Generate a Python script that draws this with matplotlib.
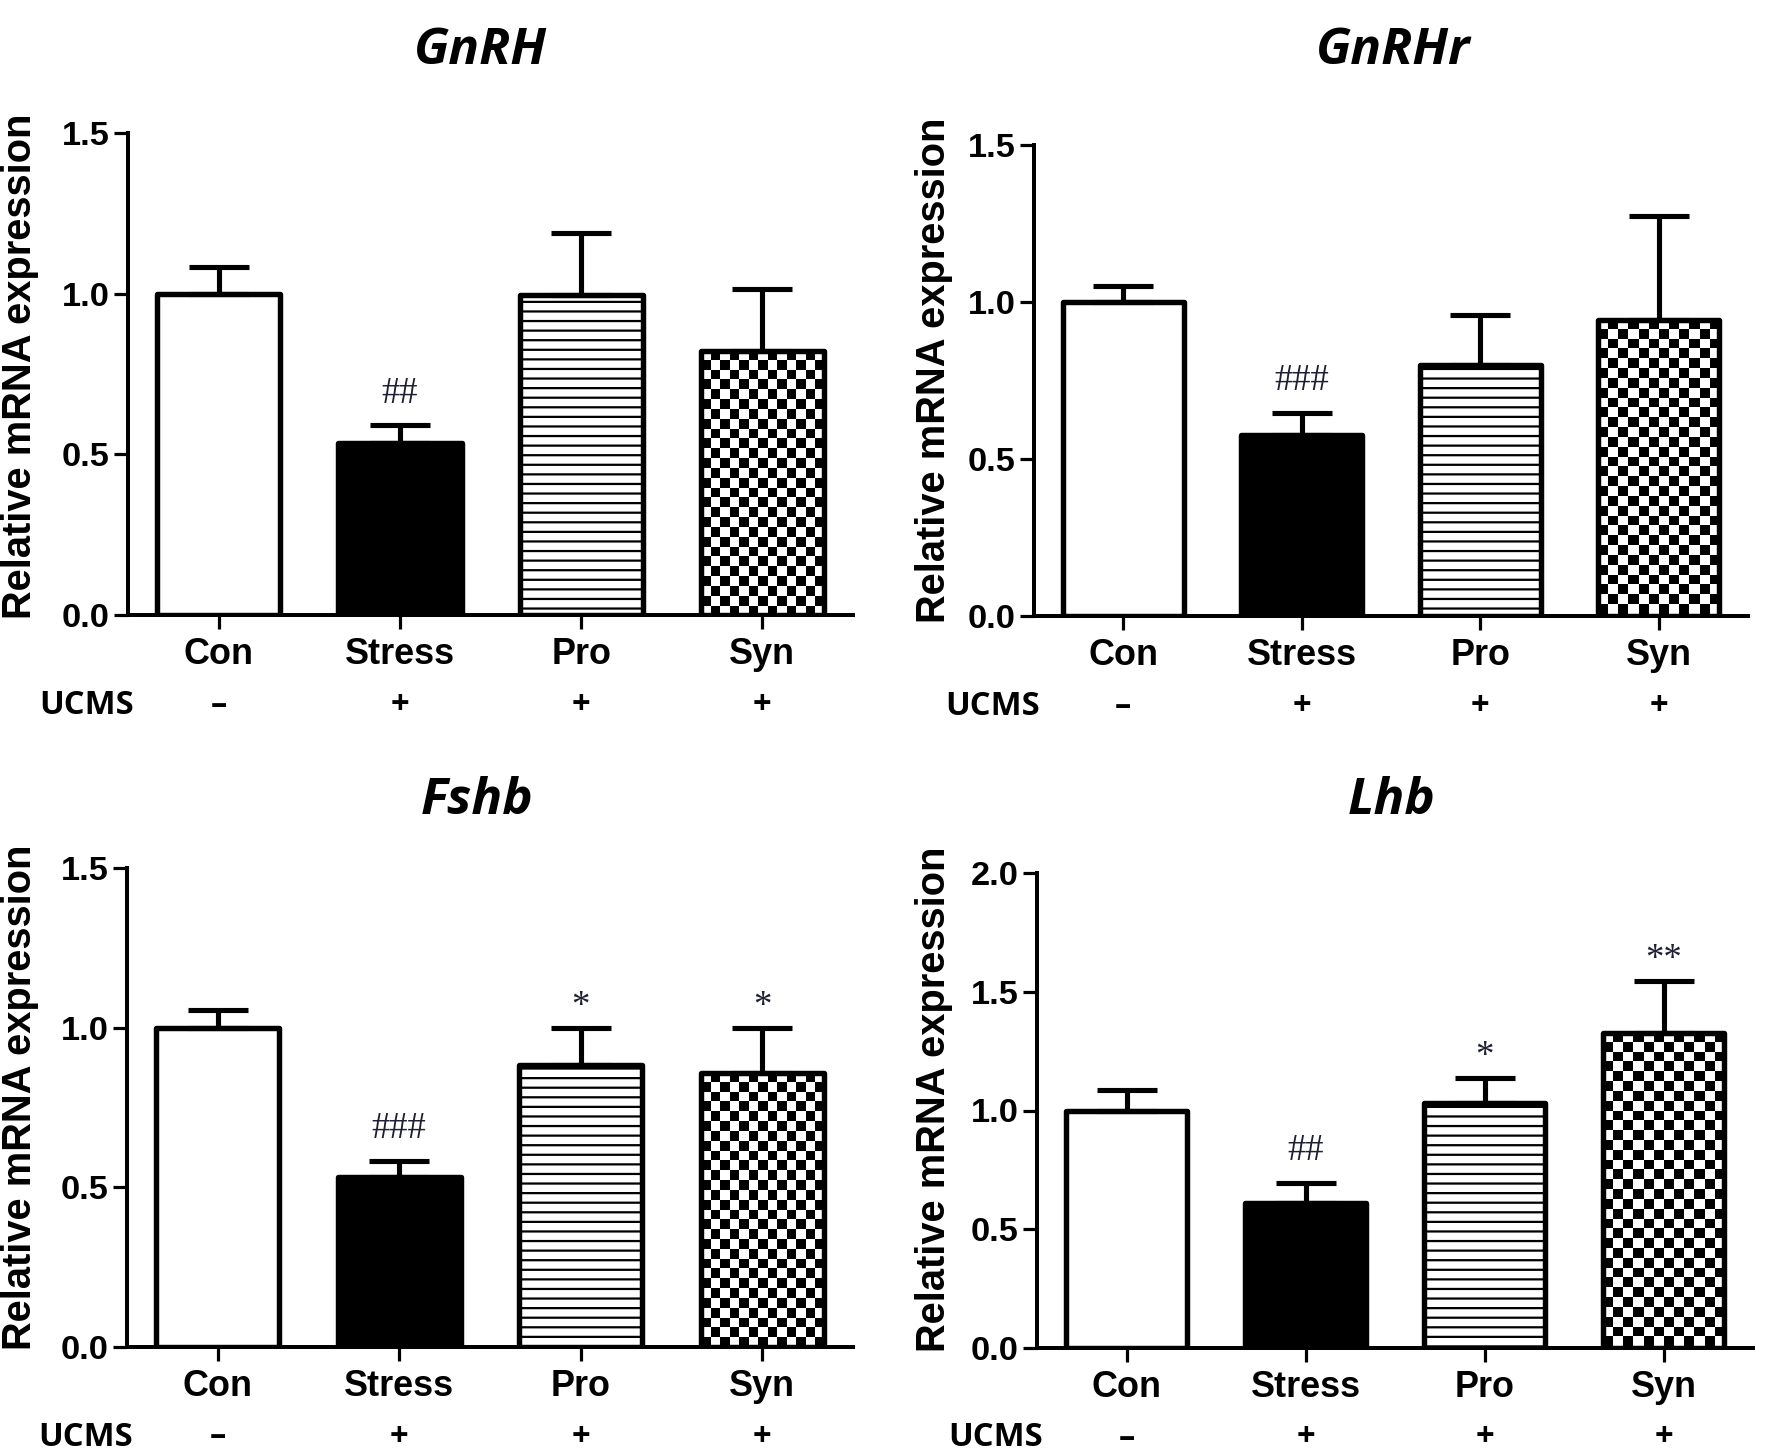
import matplotlib
matplotlib.use('Agg')
import matplotlib.pyplot as plt
import numpy as np
from matplotlib.ticker import FormatStrFormatter, MultipleLocator

# ---------------- data ----------------
groups = ['Con', 'Stress', 'Pro', 'Syn']
ucms_signs = ['\u2013', '+', '+', '+']

gnrh_mean = [1.00, 0.535, 0.995, 0.822]
gnrh_err = [0.082, 0.055, 0.195, 0.192]
gnrh_sig = ['', '##', '', '']

gnrhr_mean = [1.00, 0.578, 0.800, 0.943]
gnrhr_err = [0.050, 0.068, 0.158, 0.330]
gnrhr_sig = ['', '###', '', '']

fshb_mean = [1.00, 0.532, 0.882, 0.859]
fshb_err = [0.056, 0.050, 0.118, 0.141]
fshb_sig = ['', '###', '*', '*']

lhb_mean = [1.00, 0.612, 1.030, 1.328]
lhb_err = [0.087, 0.083, 0.107, 0.218]
lhb_sig = ['', '##', '*', '**']

titles = ['GnRH', 'GnRHr', 'Fshb', 'Lhb']
ymax_list = [1.5, 1.5, 1.5, 2.0]
ylabel = 'Relative mRNA expression'

# ---------------- layout ----------------
DPI = 115
W, H = 1772, 1455
fig = plt.figure(figsize=(W / DPI, H / DPI), dpi=DPI)
fig.patch.set_facecolor('white')
plt.rcParams['hatch.linewidth'] = 1.4

rects = [
    [128 / W, 1 - 615 / H, 725 / W, 482 / H],
    [1034 / W, 1 - 616 / H, 714 / W, 471 / H],
    [127 / W, 1 - 1347 / H, 726 / W, 479 / H],
    [1037 / W, 1 - 1348 / H, 716 / W, 475 / H],
]
title_pos = [(480 / W, 1 - 51 / H), (1393 / W, 1 - 51 / H),
             (477 / W, 1 - 801 / H), (1392 / W, 1 - 801 / H)]
ylabel_pos = [(20 / W, 1 - 366 / H), (934 / W, 1 - 370 / H),
              (20 / W, 1 - 1097 / H), (934 / W, 1 - 1099 / H)]

means = [gnrh_mean, gnrhr_mean, fshb_mean, lhb_mean]
errs = [gnrh_err, gnrhr_err, fshb_err, lhb_err]
sigs = [gnrh_sig, gnrhr_sig, fshb_sig, lhb_sig]

sans = 'Liberation Sans'
faces = ['white', 'black', 'white', 'none']
hatches = [None, None, '--', None]

for k in range(4):
    ax = fig.add_axes(rects[k])
    mean = np.array(means[k])
    err = np.array(errs[k])
    x = np.arange(len(groups))
    ymax = ymax_list[k]

    bars = ax.bar(x, mean, width=0.68, color=faces, edgecolor='black',
                  linewidth=3.4, joinstyle='round', zorder=2)
    for b, h in zip(bars, hatches):
        if h:
            b.set_hatch(h)
    ax.errorbar(x, mean, yerr=[np.zeros(len(x)), err], fmt='none',
                ecolor='black', elinewidth=3.2, capsize=19, capthick=3.2,
                zorder=3)

    ax.set_xlim(-0.5, 3.5)
    ax.set_ylim(0, ymax)

    # checkerboard fill for the Syn bar
    b = bars[3]
    p0 = ax.transData.transform((0, 0))
    p1 = ax.transData.transform((1, 1))
    pxx, pxy = p1[0] - p0[0], p1[1] - p0[1]
    sq = 9.8
    ncol = max(1, int(round(b.get_width() * pxx / sq)))
    nrow = int(np.ceil(b.get_height() * pxy / sq)) + 1
    board = np.add.outer(np.arange(nrow), np.arange(ncol)) % 2
    top = b.get_y() + b.get_height()
    im = ax.imshow(board, cmap='gray_r', interpolation='nearest',
                   origin='upper', aspect='auto',
                   extent=(b.get_x(), b.get_x() + b.get_width(),
                           top - nrow * sq / pxy, top), zorder=1)
    im.set_clip_path(b)
    ax.set_xlim(-0.5, 3.5)
    ax.set_ylim(0, ymax)

    for s in ['top', 'right']:
        ax.spines[s].set_visible(False)
    for s in ['left', 'bottom']:
        ax.spines[s].set_linewidth(2.5)

    ax.set_xticks(x)
    ax.set_xticklabels(groups, fontsize=22.5, fontweight='bold', family=sans)
    ax.yaxis.set_major_locator(MultipleLocator(0.5))
    ax.yaxis.set_major_formatter(FormatStrFormatter('%.1f'))
    for lab in ax.get_yticklabels():
        lab.set_fontsize(21.5)
        lab.set_fontweight('bold')
        lab.set_family(sans)
    ax.tick_params(axis='x', width=2.0, length=8.5, pad=5)
    ax.tick_params(axis='y', width=2.0, length=8.5, pad=3)

    # significance marks
    for i, s in enumerate(sigs[k]):
        if not s:
            continue
        off = 32 if '#' in s else 21
        ax.annotate(s, xy=(x[i], mean[i] + err[i]), xytext=(0, off),
                    textcoords='offset pixels', ha='center', va='center',
                    fontsize=23, family='Liberation Serif', color='#1f1f33')

    # UCMS row
    ax.annotate('UCMS', xy=(0, 0), xycoords='axes fraction',
                xytext=(-89, -90), textcoords='offset pixels',
                ha='left', va='center', fontsize=20.5, fontweight='bold',
                family='Open Sans')
    for i, sgn in enumerate(ucms_signs):
        ax.annotate(sgn, xy=(x[i], 0), xycoords=('data', 'axes fraction'),
                    xytext=(0, -90), textcoords='offset pixels',
                    ha='center', va='center', fontsize=20.5, fontweight='bold',
                    family='Open Sans')

    fig.text(*title_pos[k], titles[k], ha='center', va='center',
             fontsize=32, fontweight='bold', fontstyle='italic',
             family='Open Sans')
    fig.text(*ylabel_pos[k], ylabel, rotation=90, ha='center', va='center',
             fontsize=25, fontweight='bold', family=sans)

fig.savefig('out.png', dpi=DPI)
